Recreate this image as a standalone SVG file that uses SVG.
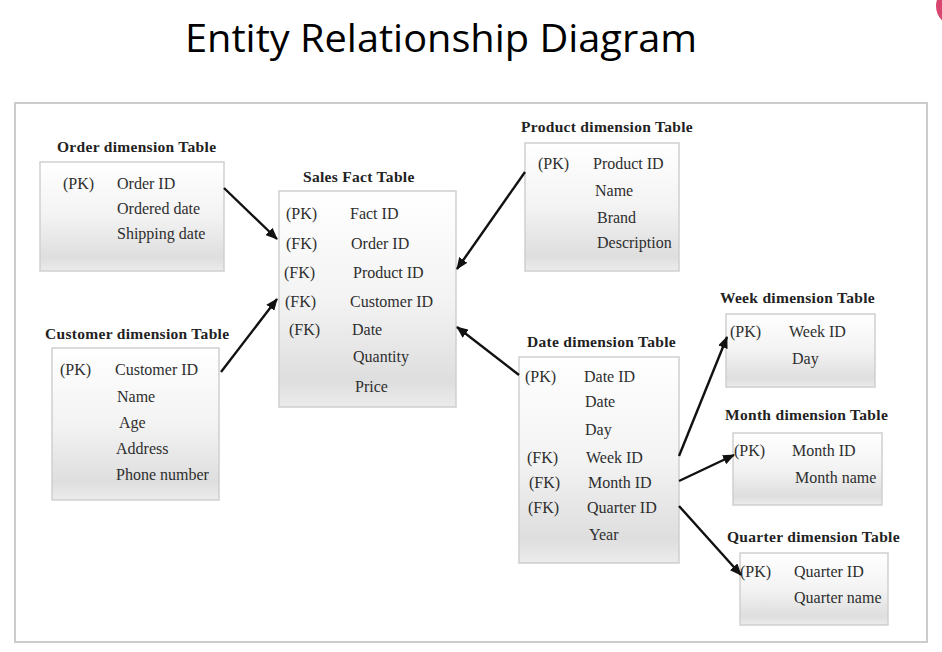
<svg xmlns="http://www.w3.org/2000/svg" width="942" height="652" viewBox="0 0 942 652">
<defs>
<linearGradient id="boxfill" x1="0" y1="0" x2="0" y2="1">
<stop offset="0" stop-color="#ffffff"/>
<stop offset="0.5" stop-color="#f3f3f3"/>
<stop offset="0.88" stop-color="#dedede"/>
<stop offset="1" stop-color="#ececec"/>
</linearGradient>
<marker id="arr" markerUnits="userSpaceOnUse" markerWidth="12" markerHeight="10" refX="11" refY="5" orient="auto">
<path d="M0,0 L12,5 L0,10 z" fill="#111"/>
</marker>
</defs>
<style>
.box{fill:url(#boxfill);stroke:#cfcfcf;stroke-width:1.5}
.ttl{font-family:"Liberation Serif","Times New Roman",serif;font-weight:bold;font-size:15.5px;letter-spacing:0.3px;fill:#222}
.t{font-family:"Liberation Serif","Times New Roman",serif;font-size:16px;fill:#2e2e2e}
.c{stroke:#111;stroke-width:2.4;fill:none;marker-end:url(#arr)}
</style>
<rect width="942" height="652" fill="#ffffff"/>
<text x="441" y="52" text-anchor="middle" font-family="Open Sans, sans-serif" font-size="38" fill="#000" textLength="512" lengthAdjust="spacingAndGlyphs">Entity Relationship Diagram</text>
<circle cx="956" cy="6" r="20" fill="#d8456e"/>
<rect x="15" y="103" width="912" height="539" fill="#ffffff" stroke="#cccccc" stroke-width="2"/>

<g id="order">
<text class="ttl" x="57" y="152">Order dimension Table</text>
<rect class="box" x="40" y="162" width="184" height="109"/>
<text class="t" x="63" y="189">(PK)</text>
<text class="t" x="117" y="189">Order ID</text>
<text class="t" x="117" y="214">Ordered date</text>
<text class="t" x="117" y="239">Shipping date</text>
</g>

<g id="sales">
<text class="ttl" x="303" y="182">Sales Fact Table</text>
<rect class="box" x="279" y="191" width="177" height="216"/>
<text class="t" x="286" y="219">(PK)</text>
<text class="t" x="350" y="219">Fact ID</text>
<text class="t" x="286" y="249">(FK)</text>
<text class="t" x="351" y="249">Order ID</text>
<text class="t" x="284" y="278">(FK)</text>
<text class="t" x="353" y="278">Product ID</text>
<text class="t" x="285" y="307">(FK)</text>
<text class="t" x="350" y="307">Customer ID</text>
<text class="t" x="289" y="335">(FK)</text>
<text class="t" x="352" y="335">Date</text>
<text class="t" x="353" y="362">Quantity</text>
<text class="t" x="355" y="392">Price</text>
</g>

<g id="customer">
<text class="ttl" x="45" y="339">Customer dimension Table</text>
<rect class="box" x="52" y="348" width="167" height="152"/>
<text class="t" x="60" y="375">(PK)</text>
<text class="t" x="115" y="375">Customer ID</text>
<text class="t" x="117" y="402">Name</text>
<text class="t" x="119" y="428">Age</text>
<text class="t" x="116" y="454">Address</text>
<text class="t" x="116" y="480">Phone number</text>
</g>

<g id="product">
<text class="ttl" x="521" y="132">Product dimension Table</text>
<rect class="box" x="525" y="143" width="154" height="128"/>
<text class="t" x="538" y="169">(PK)</text>
<text class="t" x="593" y="169">Product ID</text>
<text class="t" x="595" y="196">Name</text>
<text class="t" x="597" y="223">Brand</text>
<text class="t" x="597" y="248">Description</text>
</g>

<g id="week">
<text class="ttl" x="720" y="303">Week dimension Table</text>
<rect class="box" x="726" y="314" width="149" height="73"/>
<text class="t" x="730" y="337">(PK)</text>
<text class="t" x="789" y="337">Week ID</text>
<text class="t" x="792" y="364">Day</text>
</g>

<g id="date">
<text class="ttl" x="527" y="347">Date dimension Table</text>
<rect class="box" x="519" y="357" width="160" height="206"/>
<text class="t" x="525" y="382">(PK)</text>
<text class="t" x="584" y="382">Date ID</text>
<text class="t" x="585" y="407">Date</text>
<text class="t" x="585" y="435">Day</text>
<text class="t" x="527" y="463">(FK)</text>
<text class="t" x="586" y="463">Week ID</text>
<text class="t" x="529" y="488">(FK)</text>
<text class="t" x="588" y="488">Month ID</text>
<text class="t" x="528" y="513">(FK)</text>
<text class="t" x="587" y="513">Quarter ID</text>
<text class="t" x="589" y="540">Year</text>
</g>

<g id="month">
<text class="ttl" x="725" y="420">Month dimension Table</text>
<rect class="box" x="733" y="433" width="149" height="72"/>
<text class="t" x="734" y="456">(PK)</text>
<text class="t" x="792" y="456">Month ID</text>
<text class="t" x="795" y="483">Month name</text>
</g>

<g id="quarter">
<text class="ttl" x="727" y="542">Quarter dimension Table</text>
<rect class="box" x="740" y="553" width="148" height="72"/>
<text class="t" x="740" y="577">(PK)</text>
<text class="t" x="794" y="577">Quarter ID</text>
<text class="t" x="794" y="603">Quarter name</text>
</g>

<g id="connectors">
<line class="c" x1="224" y1="188" x2="277" y2="239"/>
<line class="c" x1="221" y1="372" x2="277" y2="299"/>
<line class="c" x1="525" y1="172" x2="457" y2="269"/>
<line class="c" x1="519" y1="375" x2="457" y2="327"/>
<line class="c" x1="679" y1="456" x2="727" y2="337"/>
<line class="c" x1="679" y1="481" x2="734" y2="455"/>
<line class="c" x1="679" y1="506" x2="741" y2="575"/>
</g>
</svg>
